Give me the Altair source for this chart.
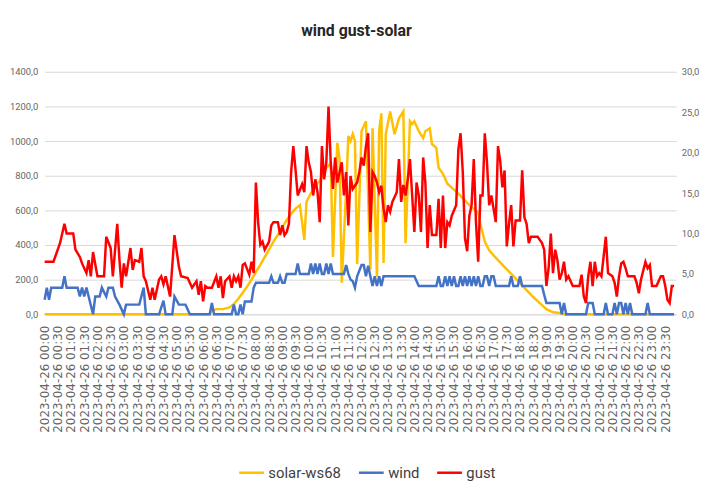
import altair as alt
import pandas as pd

DAY = "2023-04-26"
TITLE = "wind gust-solar"
SERIES = ["solar-ws68", "wind", "gust"]
COLORS = ["#FFC000", "#4472C4", "#FF0000"]
LEFT_TICKS = [0, 200, 400, 600, 800, 1000, 1200, 1400]
RIGHT_TICKS = [0, 5, 10, 15, 20, 25, 30]

solar_times = ["00:00", "06:15", "06:20", "06:30", "06:45", "07:00", "07:10", "07:20", "07:30", "07:40",
               "07:50", "08:00", "08:10", "08:20", "08:30", "08:40", "08:50", "09:00", "09:10", "09:20",
               "09:30", "09:40", "09:50", "09:55", "10:05", "10:15", "10:25", "10:35", "10:40", "10:50",
               "10:55", "11:05", "11:10", "11:15", "11:25", "11:30", "11:35", "11:40", "11:45", "11:50",
               "12:00", "12:10", "12:20", "12:25", "12:35", "12:40", "12:45", "12:50", "12:55", "13:05",
               "13:15", "13:25", "13:35", "13:40", "13:50", "13:55", "14:00", "14:10", "14:20", "14:25",
               "14:35", "14:40", "14:50", "14:55", "15:05", "15:15", "15:25", "15:40", "15:55", "16:10",
               "16:25", "16:30", "16:40", "16:50", "17:00", "17:15", "17:30", "17:45", "18:00", "18:15",
               "18:30", "18:45", "19:00", "19:15", "19:30", "19:40", "23:50"]
solar_values = [0, 0, 20, 30, 30, 40, 60, 90, 125, 160,
                200, 245, 285, 330, 375, 420, 460, 500, 545, 580,
                610, 630, 430, 650, 700, 740, 771, 820, 846, 870,
                331, 990, 900, 183, 714, 1030, 1000, 1040, 1000, 290,
                1057, 1114, 257, 1074, 217, 1057, 1160, 297, 1040, 1171,
                1040, 1131, 1171, 411, 1114, 1097, 1114, 1057, 1017, 1057,
                1074, 983, 960, 846, 811, 754, 731, 697, 657, 617,
                590, 520, 420, 370, 340, 300, 260, 220, 180, 140,
                100, 65, 30, 12, 8, 0, 0]

wind_times = ["00:00", "00:05", "00:10", "00:15", "00:40", "00:45", "00:50", "01:15", "01:20", "01:25",
              "01:30", "01:35", "01:40", "01:50", "01:55", "02:05", "02:10", "02:20", "02:25", "02:35",
              "02:40", "02:50", "03:00", "03:05", "03:35", "03:45", "03:50", "04:20", "04:30", "04:35",
              "04:50", "04:55", "05:05", "05:20", "05:30", "06:15", "06:20", "06:25", "07:05", "07:10",
              "07:15", "07:20", "07:25", "07:30", "07:35", "07:50", "07:55", "08:00", "08:30", "08:35",
              "08:40", "08:50", "08:55", "09:00", "09:05", "09:10", "09:30", "09:35", "09:40", "10:00",
              "10:05", "10:10", "10:15", "10:20", "10:25", "10:30", "10:35", "10:40", "10:45", "10:50",
              "10:55", "11:20", "11:25", "11:30", "11:35", "11:40", "11:45", "11:50", "12:00", "12:05",
              "12:10", "12:15", "12:20", "12:25", "12:30", "12:35", "12:40", "12:45", "12:50", "14:00",
              "14:10", "14:50", "14:55", "15:00", "15:05", "15:10", "15:15", "15:20", "15:25", "15:30",
              "15:35", "15:40", "15:45", "15:50", "15:55", "16:00", "16:05", "16:10", "16:15", "16:20",
              "16:25", "16:30", "16:35", "16:40", "16:45", "16:50", "16:55", "17:00", "17:05", "17:35",
              "17:40", "17:45", "17:55", "18:00", "18:05", "18:50", "18:55", "19:00", "19:30", "19:35",
              "19:40", "19:45", "20:30", "20:35", "20:45", "20:50", "21:10", "21:15", "21:20", "21:30",
              "21:35", "21:40", "21:45", "21:50", "21:55", "22:00", "22:05", "22:10", "22:15", "22:45",
              "22:50", "22:55", "23:50"]
wind_values = [1.8, 3.3, 1.8, 3.3, 3.3, 4.7, 3.3, 3.3, 2.2, 3.3,
               2.2, 3.3, 2.2, 0.0, 2.2, 2.2, 3.3, 2.2, 3.3, 3.3,
               2.2, 1.2, 0.0, 1.2, 1.2, 3.3, 0.0, 0.0, 1.7, 0.0,
               0.0, 2.2, 1.2, 1.2, 0.0, 0.0, 1.4, 0.0, 0.0, 1.2,
               0.0, 0.0, 1.2, 0.0, 1.6, 1.6, 3.3, 3.9, 3.9, 4.7,
               3.9, 3.9, 4.7, 3.9, 3.9, 5.0, 5.0, 6.3, 5.0, 5.0,
               6.3, 5.0, 6.3, 5.0, 6.3, 5.0, 5.0, 6.3, 5.0, 6.3,
               5.0, 5.0, 6.1, 5.0, 4.3, 4.1, 3.3, 4.7, 6.1, 6.1,
               4.7, 6.0, 4.7, 3.5, 4.7, 3.5, 4.7, 3.5, 4.7, 4.7,
               3.5, 3.5, 4.7, 3.5, 3.5, 4.7, 3.5, 4.7, 3.5, 4.7,
               3.5, 3.5, 4.7, 3.5, 4.7, 3.5, 4.7, 3.5, 4.7, 3.5,
               4.7, 3.5, 3.5, 4.7, 4.7, 3.5, 4.7, 4.7, 3.5, 3.5,
               4.7, 3.5, 3.5, 4.7, 3.5, 3.5, 2.4, 1.4, 1.4, 0.0,
               1.4, 0.0, 0.0, 1.4, 1.4, 0.0, 0.0, 1.4, 0.0, 0.0,
               1.4, 0.0, 1.4, 1.4, 0.0, 1.4, 0.0, 1.4, 0.0, 0.0,
               1.4, 0.0, 0.0]

gust_times = ["00:00", "00:20", "00:35", "00:45", "00:50", "01:05", "01:10", "01:20", "01:25", "01:35",
              "01:40", "01:45", "01:50", "02:00", "02:15", "02:20", "02:30", "02:35", "02:45", "02:50",
              "02:55", "03:00", "03:05", "03:15", "03:20", "03:25", "03:35", "03:40", "03:45", "03:50",
              "04:00", "04:05", "04:10", "04:20", "04:25", "04:30", "04:35", "04:45", "04:55", "05:05",
              "05:10", "05:25", "05:35", "05:45", "05:50", "05:55", "06:00", "06:05", "06:10", "06:20",
              "06:30", "06:35", "06:40", "06:45", "06:50", "07:00", "07:05", "07:10", "07:15", "07:20",
              "07:25", "07:30", "07:35", "07:45", "07:50", "07:55", "08:00", "08:05", "08:10", "08:15",
              "08:20", "08:30", "08:35", "08:40", "08:50", "08:55", "09:00", "09:05", "09:10", "09:15",
              "09:20", "09:25", "09:30", "09:35", "09:45", "09:50", "09:55", "10:00", "10:05", "10:10",
              "10:15", "10:20", "10:25", "10:30", "10:35", "10:40", "10:45", "10:50", "10:55", "11:00",
              "11:05", "11:15", "11:20", "11:25", "11:30", "11:35", "11:40", "11:50", "11:55", "12:00",
              "12:05", "12:10", "12:15", "12:20", "12:25", "12:30", "12:35", "12:40", "12:45", "12:50",
              "12:55", "13:00", "13:05", "13:10", "13:20", "13:25", "13:30", "13:35", "13:40", "13:45",
              "13:50", "13:55", "14:00", "14:05", "14:10", "14:15", "14:20", "14:25", "14:30", "14:35",
              "14:40", "14:45", "14:50", "14:55", "15:00", "15:05", "15:10", "15:15", "15:20", "15:25",
              "15:35", "15:40", "15:45", "15:50", "15:55", "16:00", "16:05", "16:10", "16:15", "16:20",
              "16:25", "16:30", "16:35", "16:40", "16:45", "16:50", "16:55", "17:05", "17:10", "17:15",
              "17:20", "17:25", "17:30", "17:35", "17:40", "17:45", "17:50", "18:00", "18:05", "18:10",
              "18:15", "18:20", "18:25", "18:40", "18:50", "18:55", "19:00", "19:05", "19:10", "19:15",
              "19:20", "19:25", "19:30", "19:35", "19:40", "19:45", "19:50", "20:00", "20:15", "20:20",
              "20:25", "20:30", "20:35", "20:40", "20:45", "20:50", "20:55", "21:00", "21:05", "21:15",
              "21:20", "21:30", "21:35", "21:40", "21:45", "21:50", "21:55", "22:00", "22:05", "22:20",
              "22:25", "22:30", "22:35", "22:45", "22:50", "22:55", "23:00", "23:10", "23:20", "23:25",
              "23:30", "23:35", "23:40", "23:45", "23:50"]
gust_values = [6.5, 6.5, 8.8, 11.2, 10.0, 10.0, 8.0, 7.1, 6.3, 5.1,
               6.7, 4.7, 7.7, 4.7, 4.7, 9.6, 8.2, 4.7, 11.2, 6.7,
               3.3, 6.3, 4.7, 8.2, 5.5, 6.7, 6.5, 8.2, 4.7, 4.1,
               1.8, 3.3, 1.8, 4.3, 4.7, 3.7, 4.7, 2.2, 9.8, 5.9,
               4.7, 4.5, 3.3, 4.1, 2.4, 4.1, 1.6, 3.5, 3.3, 3.3,
               4.7, 3.3, 4.7, 2.0, 4.1, 4.7, 3.3, 4.7, 4.1, 4.7,
               3.3, 6.1, 6.3, 4.9, 6.5, 5.1, 16.3, 11.4, 8.6, 9.0,
               8.0, 9.0, 11.0, 11.4, 11.4, 9.8, 11.0, 9.8, 10.2, 11.2,
               17.6, 20.8, 17.9, 14.7, 16.1, 15.1, 20.8, 18.8, 17.6, 14.7,
               16.7, 15.1, 11.4, 20.8, 16.7, 18.8, 25.7, 18.8, 15.5, 19.4,
               16.3, 18.8, 14.7, 17.6, 11.0, 17.1, 15.5, 16.3, 17.6, 19.4,
               18.4, 20.8, 22.4, 10.2, 17.6, 17.1, 16.3, 15.1, 15.9, 13.1,
               11.4, 13.5, 12.7, 13.9, 15.1, 19.2, 13.9, 16.0, 14.7, 16.7,
               19.2, 14.7, 10.2, 16.3, 14.7, 10.2, 19.4, 16.3, 8.2, 13.5,
               9.8, 9.8, 9.8, 14.3, 8.2, 14.7, 8.2, 11.4, 11.0, 12.2,
               13.5, 20.4, 22.4, 17.6, 9.4, 7.8, 12.2, 13.5, 19.2, 11.4,
               6.5, 14.7, 14.7, 22.4, 18.8, 13.5, 14.7, 11.4, 20.8, 19.0,
               15.7, 17.8, 8.4, 11.2, 13.5, 8.4, 11.6, 11.6, 17.8, 12.0,
               11.2, 8.8, 9.6, 9.6, 8.8, 8.0, 3.5, 5.7, 10.0, 5.1,
               8.0, 6.7, 4.3, 5.1, 6.5, 4.3, 4.7, 3.5, 3.5, 4.9,
               2.2, 1.4, 4.7, 6.5, 3.5, 6.5, 4.7, 5.1, 4.7, 9.6,
               5.1, 4.7, 3.9, 2.2, 4.7, 6.3, 6.5, 5.7, 4.7, 4.7,
               3.9, 2.6, 4.3, 6.5, 5.7, 6.1, 3.5, 3.5, 4.7, 4.7,
               3.5, 1.8, 1.4, 3.5, 3.5]


def frame(times, values, name):
    return pd.DataFrame({
        "time": [f"{DAY}T{t}:00" for t in times],
        "value": values,
        "series": name,
    })


solar_df = frame(solar_times, solar_values, SERIES[0])
windgust_df = pd.concat([frame(wind_times, wind_values, SERIES[1]),
                         frame(gust_times, gust_values, SERIES[2])], ignore_index=True)

tick_times = [alt.DateTime(year=2023, month=4, date=26, hours=h, minutes=m)
              for h in range(24) for m in (0, 30)]

x_enc = alt.X(
    "time:T",
    scale=alt.Scale(
        domain=[alt.DateTime(year=2023, month=4, date=26, hours=0, minutes=0),
                alt.DateTime(year=2023, month=4, date=26, hours=23, minutes=55)],
        nice=False,
    ),
    axis=alt.Axis(
        title=None,
        values=tick_times,
        format="%Y-%m-%d %H:%M",
        formatType="time",
        labelAngle=-90,
        labelFont="DejaVu Sans",
        labelFontSize=12,
        labelColor="#666666",
        labelPadding=11,
        labelOverlap=False,
        labelFlush=False,
        ticks=False,
        grid=False,
        domain=True,
        domainColor="#D9D9D9",
        domainWidth=1,
    ),
)

color_enc = alt.Color(
    "series:N",
    scale=alt.Scale(domain=SERIES, range=COLORS),
    legend=alt.Legend(
        title=None,
        orient="none",
        legendX=195,
        legendY=391,
        direction="horizontal",
        symbolType="stroke",
        symbolSize=625,
        symbolStrokeWidth=2.5,
        labelFont="Roboto",
        labelFontSize=15,
        labelColor="#404040",
        labelOffset=3,
        columnPadding=12,
    ),
)

left_axis = alt.Axis(
    title=None,
    values=LEFT_TICKS,
    labelExpr="format(datum.value, 'd') + ',0'",
    labelFont="Roboto",
    labelFontSize=9.5,
    labelColor="#666666",
    labelPadding=7,
    ticks=False,
    domain=False,
    grid=True,
    gridColor="#D9D9D9",
    gridWidth=1,
    orient="left",
)

right_axis = alt.Axis(
    title=None,
    values=RIGHT_TICKS,
    labelExpr="format(datum.value, 'd') + ',0'",
    labelFont="Roboto",
    labelFontSize=9.5,
    labelColor="#666666",
    labelPadding=5,
    ticks=False,
    domain=False,
    grid=False,
    orient="right",
)

solar = alt.Chart(solar_df).mark_line(strokeWidth=2.5).encode(
    x=x_enc,
    y=alt.Y("value:Q", scale=alt.Scale(domain=[0, 1400], nice=False), axis=left_axis),
    color=color_enc,
)

windgust = alt.Chart(windgust_df).mark_line(strokeWidth=2.5).encode(
    x=x_enc,
    y=alt.Y("value:Q", scale=alt.Scale(domain=[0, 30], nice=False), axis=right_axis),
    color=color_enc,
)

chart = alt.layer(solar, windgust).resolve_scale(y="independent").properties(
    width=638,
    height=245,
    title=alt.TitleParams(
        text=TITLE,
        font="Roboto",
        fontSize=16,
        fontWeight="bold",
        color="#262626",
        anchor="middle",
        frame="group",
        offset=28,
        dx=-4,
    ),
    autosize=alt.AutoSizeParams(type="none"),
    padding={"left": 37, "top": 62, "right": 25, "bottom": 172},
).configure_view(stroke=None)

chart.save("out.html", embed_options={"renderer": "svg", "actions": False})
